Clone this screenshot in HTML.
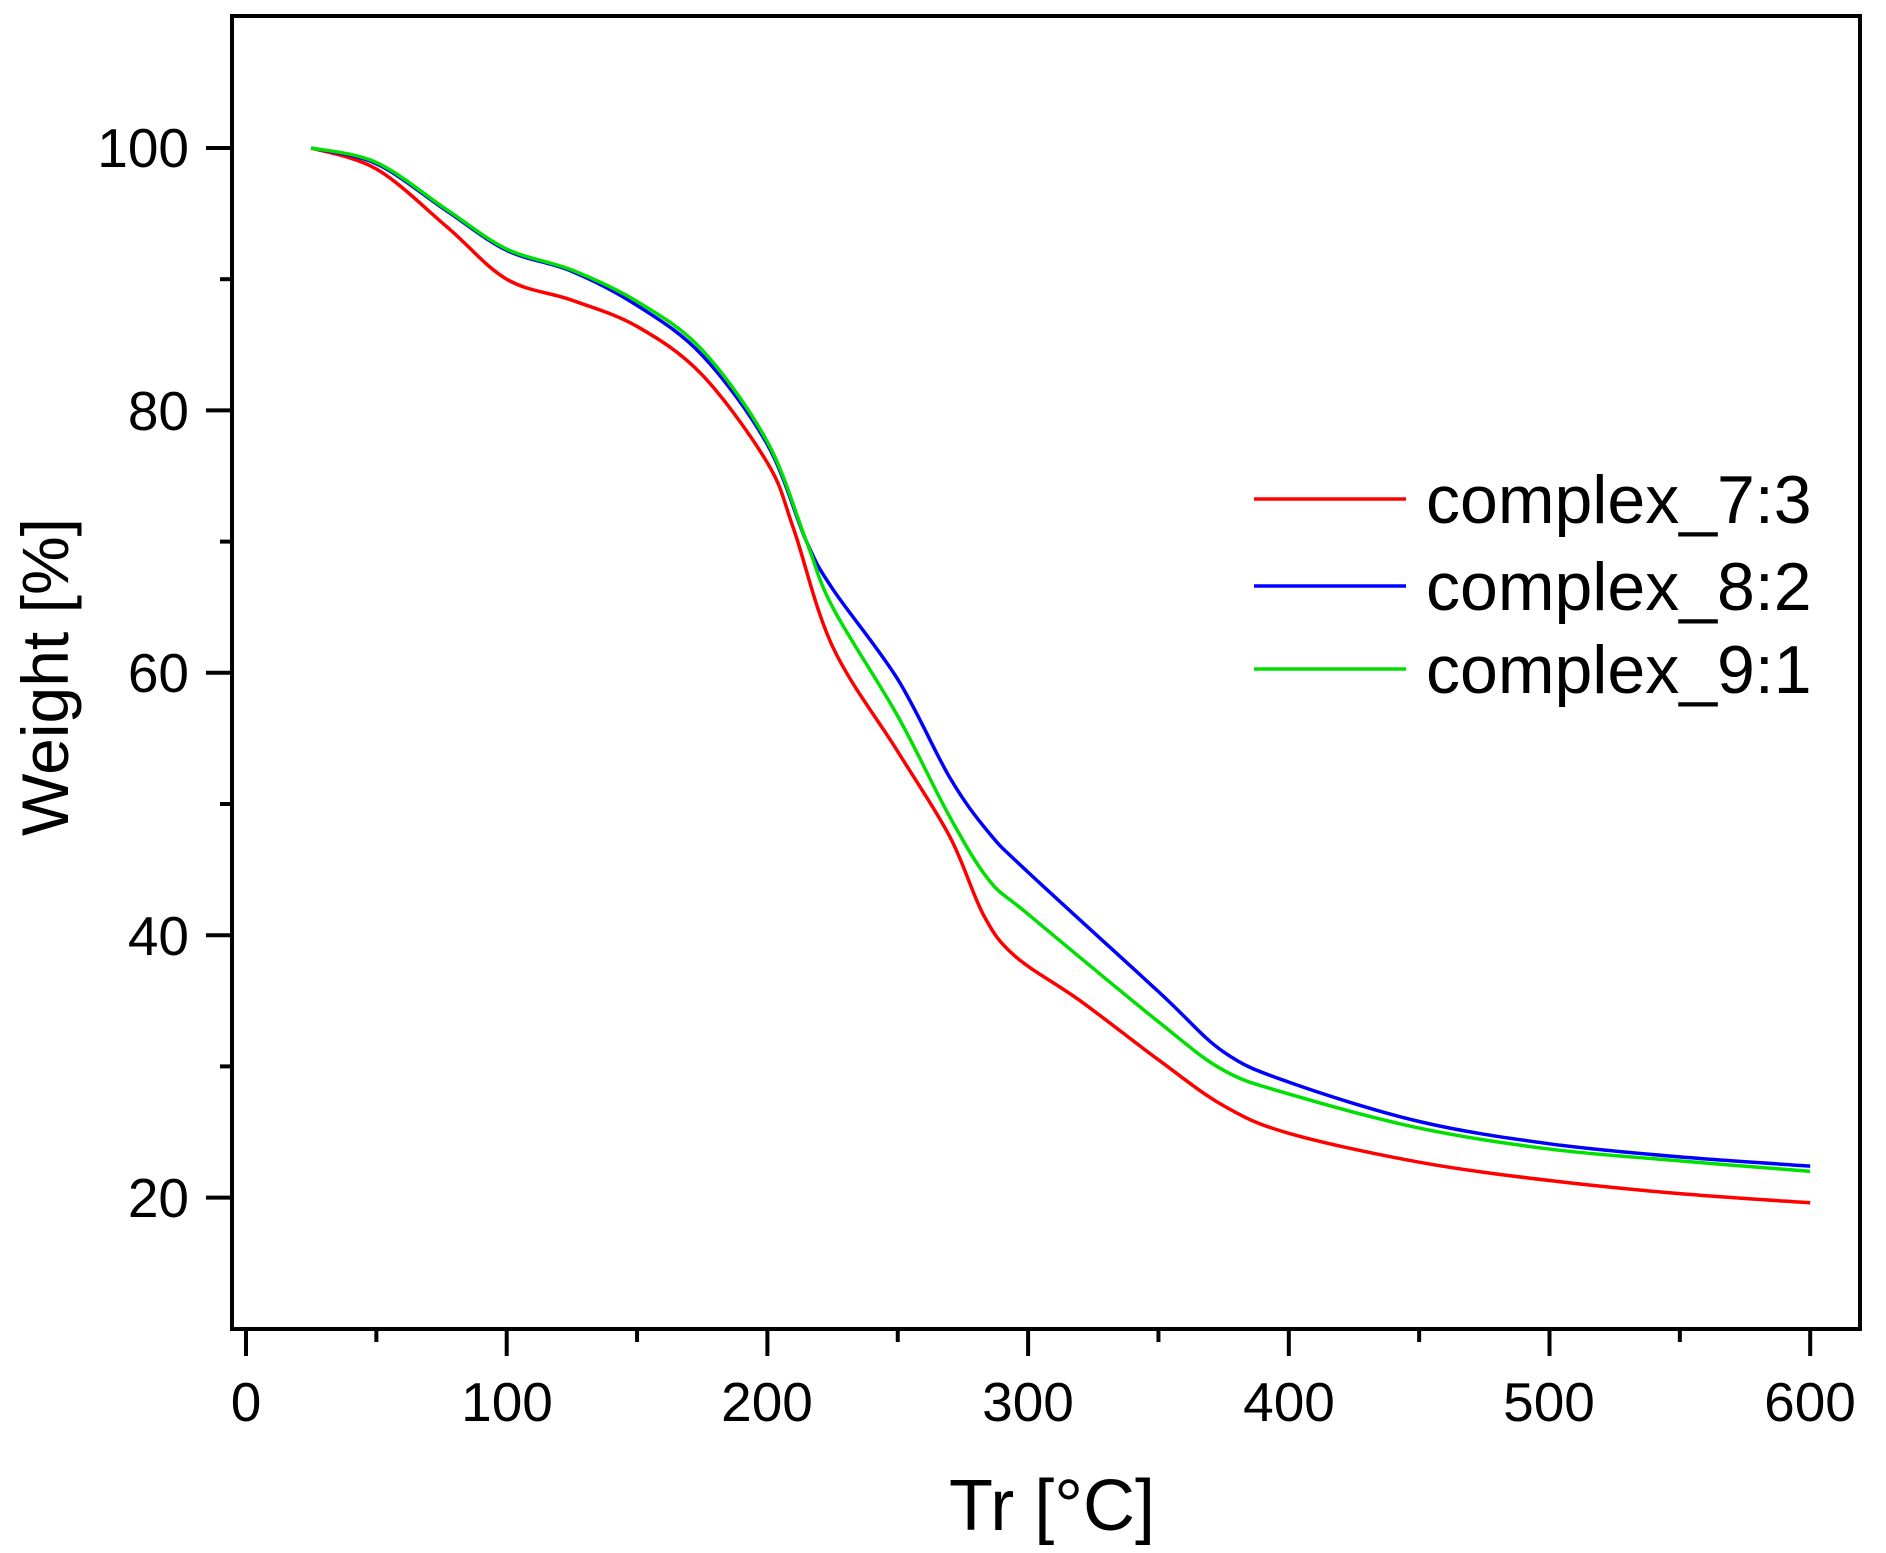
<!DOCTYPE html>
<html><head><meta charset="utf-8"><style>
html,body{margin:0;padding:0;background:#fff;}
svg{display:block;}
text{font-family:"Liberation Sans",Arial,sans-serif;fill:#000;}
</style></head><body>
<svg id="s" width="1886" height="1553" viewBox="0 0 1886 1553" xmlns="http://www.w3.org/2000/svg">
<rect x="0" y="0" width="1886" height="1553" fill="#fff"/>
<g id="ticks" stroke="#000" stroke-width="4"></g>
<g id="curves" fill="none" stroke-width="3.5" stroke-linejoin="round"></g>
<rect x="232" y="16" width="1628" height="1313" fill="none" stroke="#000" stroke-width="4"/>
<g font-size="55" text-anchor="end" id="ylab">
<text x="189" y="167">100</text>
<text x="189" y="430">80</text>
<text x="189" y="692">60</text>
<text x="189" y="955">40</text>
<text x="189" y="1217">20</text>
</g>
<g font-size="55" text-anchor="middle">
<text x="246" y="1421">0</text>
<text x="507" y="1421">100</text>
<text x="767" y="1421">200</text>
<text x="1028" y="1421">300</text>
<text x="1289" y="1421">400</text>
<text x="1549" y="1421">500</text>
<text x="1810" y="1421">600</text>
</g>
<text x="1052" y="1530" font-size="72" text-anchor="middle">Tr [°C]</text>
<text transform="translate(68,677) rotate(-90)" font-size="66" text-anchor="middle">Weight [%]</text>
<g stroke-width="3.5">
<line x1="1254" y1="499" x2="1406" y2="499" stroke="#ff0000"/>
<line x1="1254" y1="586" x2="1406" y2="586" stroke="#0000ff"/>
<line x1="1254" y1="669" x2="1406" y2="669" stroke="#00e000"/>
</g>
<g font-size="68">
<text x="1426" y="523">complex_7:3</text>
<text x="1426" y="610">complex_8:2</text>
<text x="1426" y="693">complex_9:1</text>
</g>
</svg>
<script>
var X=function(t){return 246+t*2.607;};
var Y=function(v){return 148+(100-v)*13.12;};
var tk=document.getElementById('ticks'),h='';
for(var t=0;t<=600;t+=50){var x=X(t);h+='<line x1="'+x+'" y1="1329" x2="'+x+'" y2="'+(t%100==0?1356:1342)+'"/>';}
for(var v=20;v<=100;v+=10){var y=Y(v);h+='<line x1="232" y1="'+y+'" x2="'+(v%20==0?206:220)+'" y2="'+y+'"/>';}
tk.innerHTML=h;
var red=[[25,100],[50,98.4],[77,94],[100,90],[125,88.4],[150,86.4],[175,82.7],[200,76],[210,71],[225,62],[250,54],[270,47.5],[283,41.5],[295,38.4],[320,35],[350,30.5],[375,27],[400,24.9],[450,22.7],[500,21.3],[550,20.3],[600,19.6]];
var blue=[[25,100],[50,98.8],[77,95.2],[100,92.2],[125,90.6],[150,88],[175,84.2],[200,77.4],[215,70],[225,66.4],[250,59.5],[270,52],[285,47.8],[300,44.8],[350,35.7],[375,31.1],[400,28.8],[450,25.8],[500,24.1],[550,23.1],[600,22.4]];
var green=[[25,100],[50,98.9],[77,95.3],[100,92.3],[125,90.7],[150,88.3],[175,84.6],[200,77.6],[215,70],[225,65],[250,56.7],[270,49],[285,44.2],[300,41.6],[350,33.4],[375,29.7],[400,27.9],[450,25.3],[500,23.7],[550,22.8],[600,22.0]];
function path(d){var p=d.map(function(a){return[X(a[0]),Y(a[1])];});var s='M'+p[0][0]+','+p[0][1];
for(var i=0;i<p.length-1;i++){var p0=p[i-1]||p[i],p1=p[i],p2=p[i+1],p3=p[i+2]||p2;
s+=' C'+(p1[0]+(p2[0]-p0[0])/6)+','+(p1[1]+(p2[1]-p0[1])/6)+' '+(p2[0]-(p3[0]-p1[0])/6)+','+(p2[1]-(p3[1]-p1[1])/6)+' '+p2[0]+','+p2[1];}return s;}
document.getElementById('curves').innerHTML='<path d="'+path(red)+'" stroke="#ff0000"/><path d="'+path(blue)+'" stroke="#0000ff"/><path d="'+path(green)+'" stroke="#00e000"/>';
</script>
</body></html>
